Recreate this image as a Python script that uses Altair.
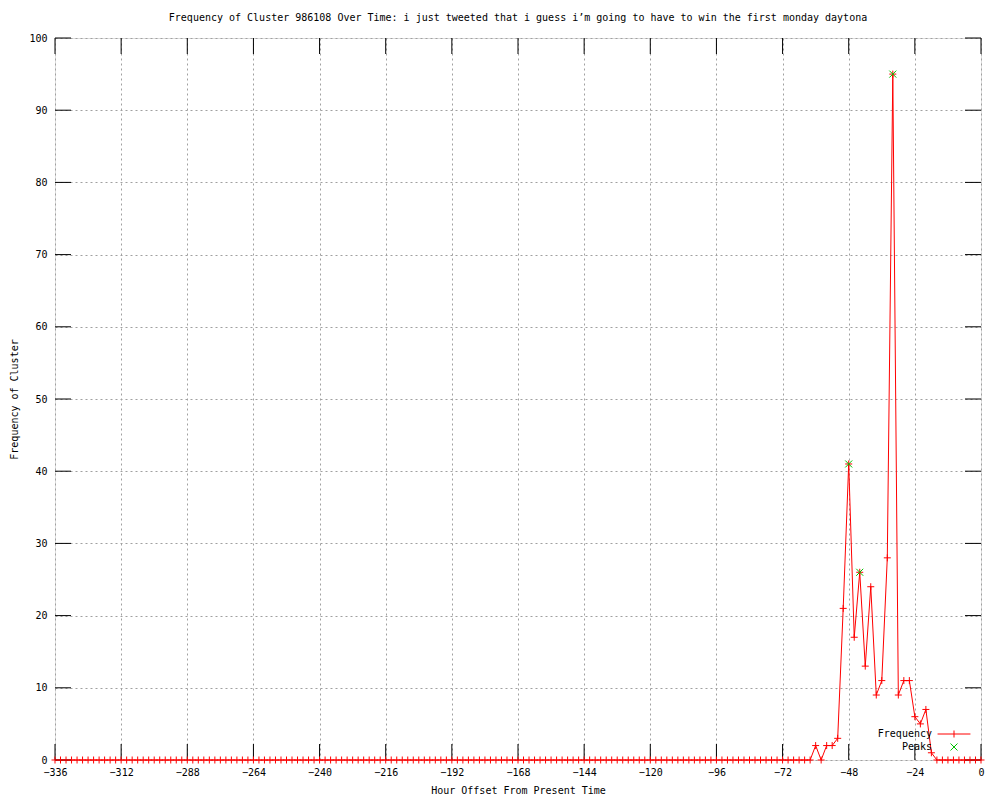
import altair as alt
import pandas as pd

# ---------------- data ----------------
hours = list(range(-336, 1, 2))  # hour offsets, one sample every 2 hours

frequency = [
    0, 0, 0, 0, 0, 0, 0, 0, 0, 0, 0, 0, 0, 0, 0, 0, 0, 0, 0, 0, 0, 0, 0,
    0, 0, 0, 0, 0, 0, 0, 0, 0, 0, 0, 0, 0, 0, 0, 0, 0, 0, 0, 0, 0, 0, 0,
    0, 0, 0, 0, 0, 0, 0, 0, 0, 0, 0, 0, 0, 0, 0, 0, 0, 0, 0, 0, 0, 0, 0,
    0, 0, 0, 0, 0, 0, 0, 0, 0, 0, 0, 0, 0, 0, 0, 0, 0, 0, 0, 0, 0, 0, 0,
    0, 0, 0, 0, 0, 0, 0, 0, 0, 0, 0, 0, 0, 0, 0, 0, 0, 0, 0, 0, 0, 0, 0,
    0, 0, 0, 0, 0, 0, 0, 0, 0, 0, 0, 0, 0, 0, 0, 0, 0, 0, 0, 0, 0, 0, 0,
    # -60 .. -18
    2, 0, 2, 2, 3, 21, 41, 17, 26, 13, 24, 9, 11, 28, 95, 9, 11, 11, 6, 5, 7, 1,
    # -16 .. 0
    0, 0, 0, 0, 0, 0, 0, 0, 0,
]

peak_hours = [-48, -44, -32]
peak_values = [41, 26, 95]

x_ticks = [-336, -312, -288, -264, -240, -216, -192, -168, -144, -120, -96, -72, -48, -24, 0]
y_ticks = [0, 10, 20, 30, 40, 50, 60, 70, 80, 90, 100]

series_names = ["Frequency", "Peaks"]
series_colors = ["#ff0000", "#00c000"]

title_text = ("Frequency of Cluster 986108 Over Time: i just tweeted that i guess "
              "i\u2019m going to have to win the first monday daytona")
x_title = "Hour Offset From Present Time"
y_title = "Frequency of Cluster"

# ---------------- tables ----------------
freq_df = pd.DataFrame({"hour": hours, "freq": frequency})
peak_df = pd.DataFrame({"hour": peak_hours, "freq": peak_values})
legend_df = pd.DataFrame({"series": series_names})
xtick_df = pd.DataFrame({"t": x_ticks})
ytick_df = pd.DataFrame({"t": y_ticks})

FONT = "DejaVu Sans Mono"
PLUS = "M-1,0L1,0M0,-1L0,1"
CROSS = "M-1,-1L1,1M-1,1L1,-1"
LEGEND_LINE = "M-4.7,0L4.7,0M0,-1L0,1"

W, H = 926, 722
TICK = 16

xs = alt.Scale(domain=[-336, 0], nice=False, zero=False)
ys = alt.Scale(domain=[0, 100], nice=False, zero=True)

# main axes: labels + grid
x_main = alt.Axis(values=x_ticks, grid=True, gridColor="#a0a0a0", gridDash=[2, 3],
                  ticks=False, domain=False, labelFont=FONT, labelFontSize=10,
                  labelColor="black", labelPadding=7, title=x_title, titleFont=FONT,
                  titleFontSize=10, titleFontWeight="normal", titleColor="black",
                  titlePadding=8, orient="bottom", labelFlush=False)
y_main = alt.Axis(values=y_ticks, grid=True, gridColor="#a0a0a0", gridDash=[2, 3],
                  ticks=False, domain=False, labelFont=FONT, labelFontSize=10,
                  labelColor="black", labelPadding=8, title=y_title, titleFont=FONT,
                  titleFontSize=10, titleFontWeight="normal", titleColor="black",
                  titleX=-41, titleY=H / 2, titleBaseline="middle", titleAngle=270,
                  titleAlign="center", orient="left", labelFlush=False)

line = alt.Chart(freq_df).mark_line(color="#ff0000", strokeWidth=1).encode(
    x=alt.X("hour:Q", scale=xs, axis=x_main),
    y=alt.Y("freq:Q", scale=ys, axis=y_main),
)

points = alt.Chart(freq_df).mark_point(shape=PLUS, filled=False, color="#ff0000",
                                       strokeWidth=1, size=49, opacity=1).encode(
    x=alt.X("hour:Q", scale=xs, axis=None),
    y=alt.Y("freq:Q", scale=ys, axis=None),
)

peaks = alt.Chart(peak_df).mark_point(shape=CROSS, filled=False, color="#00c000",
                                      strokeWidth=1, size=49, opacity=1).encode(
    x=alt.X("hour:Q", scale=xs, axis=None),
    y=alt.Y("freq:Q", scale=ys, axis=None),
)

# inward tick marks on all four borders (gnuplot style mirrored ticks)
tick_style = dict(color="black", strokeWidth=1)
ticks_bottom = alt.Chart(xtick_df).mark_rule(**tick_style).encode(
    x=alt.X("t:Q", scale=xs, axis=None), y=alt.value(H), y2=alt.value(H - TICK))
ticks_top = alt.Chart(xtick_df).mark_rule(**tick_style).encode(
    x=alt.X("t:Q", scale=xs, axis=None), y=alt.value(0), y2=alt.value(TICK))
ticks_left = alt.Chart(ytick_df).mark_rule(**tick_style).encode(
    y=alt.Y("t:Q", scale=ys, axis=None), x=alt.value(0), x2=alt.value(TICK))
ticks_right = alt.Chart(ytick_df).mark_rule(**tick_style).encode(
    y=alt.Y("t:Q", scale=ys, axis=None), x=alt.value(W), x2=alt.value(W - TICK))

legend_cfg = alt.Legend(orient="none", legendX=894, legendY=691, title=None,
                        labelAlign="right", labelOffset={"expr": "-27"}, labelFont=FONT,
                        labelFontSize=10, labelColor="black", labelBaseline="middle",
                        symbolSize=49, symbolStrokeWidth=1, symbolOpacity=1,
                        rowPadding=1, padding=0)

legend_layer = alt.Chart(legend_df).mark_point(filled=False, opacity=0, size=49).encode(
    x=alt.value(0),
    y=alt.value(0),
    shape=alt.Shape("series:N", scale=alt.Scale(domain=series_names, range=[LEGEND_LINE, CROSS]),
                    legend=legend_cfg),
    color=alt.Color("series:N", scale=alt.Scale(domain=series_names, range=series_colors),
                    legend=legend_cfg),
)

chart = alt.layer(
    line, ticks_bottom, ticks_top, ticks_left, ticks_right, points, peaks, legend_layer
).resolve_axis(
    x="independent", y="independent"
).properties(
    width=W, height=H,
    title=alt.Title(title_text, font=FONT, fontSize=10, fontWeight="normal", color="black",
                    anchor="middle", baseline="bottom", offset=13, dy=13),
    autosize=alt.AutoSizeParams(type="none"),
    padding={"left": 47, "top": 30, "right": 11, "bottom": 40},
).configure_view(stroke="black", strokeWidth=1).configure(background="white")

chart.save("out.html", embed_options={"renderer": "svg", "actions": False})
